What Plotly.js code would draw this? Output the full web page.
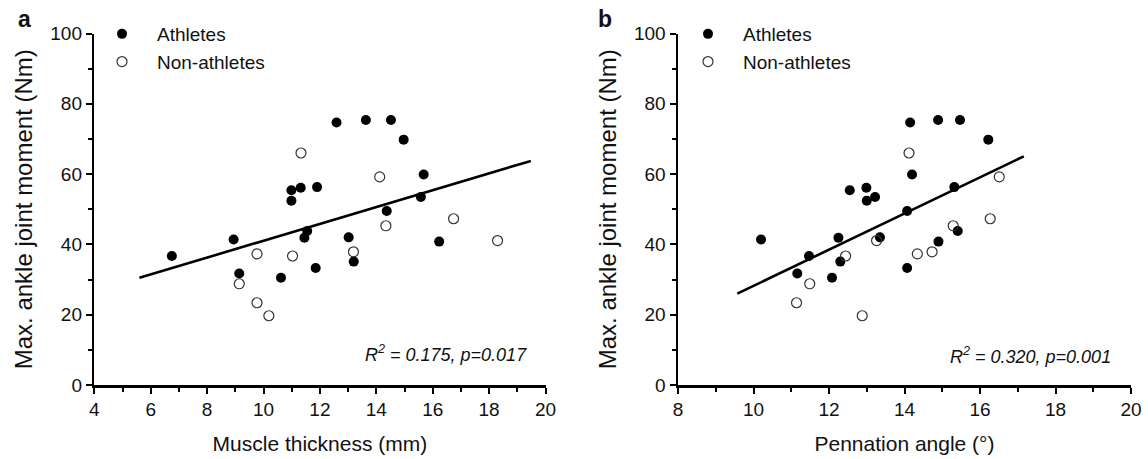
<!DOCTYPE html>
<html>
<head>
<meta charset="utf-8">
<script src="https://cdn.plot.ly/plotly-3.0.1.min.js"></script>
<style>html,body{margin:0;padding:0;background:#fff;}#chart{width:1148px;height:459px;}</style>
</head>
<body>
<div id="chart"></div>
<script>
// ---- Data ----
// Panel a: muscle thickness (mm) vs max ankle joint moment (Nm)
const athThickness = [6.75, 8.94, 9.14, 10.62, 10.99, 10.99, 11.32, 11.45, 11.55, 11.85, 11.9, 12.59, 13.02, 13.2, 13.63, 14.37, 14.52, 14.97, 15.58, 15.68, 16.23];
const athMoment    = [36.7, 41.4, 31.7, 30.5, 52.4, 55.4, 56.1, 41.9, 43.8, 33.3, 56.3, 74.7, 42.0, 35.1, 75.4, 49.5, 75.4, 69.8, 53.5, 59.9, 40.8];
// Panel b: pennation angle (deg), same athletes in the same order
const athPennation = [11.47, 10.20, 11.16, 12.08, 13.00, 12.55, 12.99, 12.25, 15.41, 14.07, 15.32, 14.15, 13.35, 12.30, 14.89, 14.07, 15.47, 16.22, 13.22, 14.20, 14.90];

const nonThickness = [9.14, 9.77, 9.77, 10.19, 11.03, 11.33, 13.19, 14.12, 14.34, 16.74, 18.30];
const nonMoment    = [28.8, 37.3, 23.4, 19.7, 36.7, 66.0, 37.9, 59.2, 45.3, 47.3, 41.1];
const nonPennation = [11.49, 14.34, 11.14, 12.88, 12.44, 14.12, 14.73, 16.51, 15.29, 16.27, 13.26];

// Fit-line x extents (as drawn in the reference)
const fitRangeA = [5.6, 19.48];
const fitRangeB = [9.57, 17.16];

const statsA = "R<sup>2</sup> = 0.175, p=0.017";
const statsB = "R<sup>2</sup> = 0.320, p=0.001";

const xTitleA = "Muscle thickness (mm)";
const xTitleB = "Pennation angle (°)";
const yTitle = "Max. ankle joint moment (Nm)";
const groupNames = ["Athletes", "Non-athletes"];

// ---- Linear regression over all points ----
function ols(x, y) {
  const n = x.length;
  let sx = 0, sy = 0;
  for (let i = 0; i < n; i++) { sx += x[i]; sy += y[i]; }
  const mx = sx / n, my = sy / n;
  let sxy = 0, sxx = 0;
  for (let i = 0; i < n; i++) { sxy += (x[i] - mx) * (y[i] - my); sxx += (x[i] - mx) ** 2; }
  const b = sxy / sxx;
  return { slope: b, intercept: my - b * mx };
}
const fitA = ols(athThickness.concat(nonThickness), athMoment.concat(nonMoment));
const fitB = ols(athPennation.concat(nonPennation), athMoment.concat(nonMoment));

const FONT = "Liberation Sans, Arial, sans-serif";
const filledMarker = { symbol: "circle", size: 10, color: "#000", line: { width: 0 } };
const openMarker = { symbol: "circle-open", size: 10, color: "#333", line: { width: 1.2, color: "#333" } };

const traces = [
  { x: athThickness, y: athMoment, type: "scatter", mode: "markers", name: groupNames[0], marker: filledMarker, xaxis: "x", yaxis: "y", legend: "legend" },
  { x: nonThickness, y: nonMoment, type: "scatter", mode: "markers", name: groupNames[1], marker: openMarker, xaxis: "x", yaxis: "y", legend: "legend" },
  { x: fitRangeA, y: fitRangeA.map(v => fitA.intercept + fitA.slope * v), type: "scatter", mode: "lines", line: { color: "#000", width: 2.6 }, showlegend: false, xaxis: "x", yaxis: "y", hoverinfo: "skip" },
  { x: athPennation, y: athMoment, type: "scatter", mode: "markers", name: groupNames[0], marker: filledMarker, xaxis: "x2", yaxis: "y2", legend: "legend2" },
  { x: nonPennation, y: nonMoment, type: "scatter", mode: "markers", name: groupNames[1], marker: openMarker, xaxis: "x2", yaxis: "y2", legend: "legend2" },
  { x: fitRangeB, y: fitRangeB.map(v => fitB.intercept + fitB.slope * v), type: "scatter", mode: "lines", line: { color: "#000", width: 2.6 }, showlegend: false, xaxis: "x2", yaxis: "y2", hoverinfo: "skip" }
];

const W = 1148, H = 459;
const yDom = [1 - 385 / H, 1 - 33.5 / H];

function xAxis(dom, range, title, anchor) {
  return {
    domain: dom, range: range, anchor: anchor, showgrid: false, zeroline: false,
    showline: true, linecolor: "#000", linewidth: 2.5, mirror: false,
    ticks: "outside", ticklen: 6, tickwidth: 2, tickcolor: "#000", dtick: 2, tick0: 0,
    minor: { dtick: 1, ticks: "outside", ticklen: 4, tickwidth: 2, tickcolor: "#000", showgrid: false },
    tickfont: { family: FONT, size: 19, color: "#111" },
    title: { text: title, font: { family: FONT, size: 21, color: "#111" }, standoff: 17 },
    fixedrange: true, automargin: false
  };
}
function yAxis(anchor) {
  return {
    domain: yDom, range: [0, 100], anchor: anchor, showgrid: false, zeroline: false,
    showline: true, linecolor: "#000", linewidth: 2.5,
    ticks: "outside", ticklen: 6, tickwidth: 2, tickcolor: "#000", dtick: 20, tick0: 0,
    minor: { dtick: 10, ticks: "outside", ticklen: 4, tickwidth: 2, tickcolor: "#000", showgrid: false },
    tickfont: { family: FONT, size: 19, color: "#111" },
    title: { text: yTitle, font: { family: FONT, size: 24, color: "#111" }, standoff: 11 },
    fixedrange: true, automargin: false
  };
}

const legendBase = {
  orientation: "v", xanchor: "left", yanchor: "top", bgcolor: "rgba(0,0,0,0)", borderwidth: 0,
  font: { family: FONT, size: 19, color: "#111" }, itemwidth: 60, tracegroupgap: 0
};

const layout = {
  width: W, height: H,
  margin: { l: 0, r: 0, t: 0, b: 0 },
  paper_bgcolor: "#fff", plot_bgcolor: "#fff",
  font: { family: FONT, color: "#111" },
  showlegend: true,
  xaxis: xAxis([94.3 / W, 545.5 / W], [4, 20], xTitleA, "y"),
  yaxis: yAxis("x"),
  xaxis2: xAxis([678 / W, 1131 / W], [8, 20], xTitleB, "y2"),
  yaxis2: yAxis("x2"),
  legend: Object.assign({}, legendBase, { x: 87 / W, y: 1 - 15 / H }),
  legend2: Object.assign({}, legendBase, { x: 673 / W, y: 1 - 15 / H }),
  annotations: [
    { text: "<b>a</b>", xref: "paper", yref: "paper", x: 24 / W, y: 1 - 19 / H, xanchor: "center", yanchor: "middle", showarrow: false, font: { family: FONT, size: 23, color: "#111" } },
    { text: "<b>b</b>", xref: "paper", yref: "paper", x: 605 / W, y: 1 - 19 / H, xanchor: "center", yanchor: "middle", showarrow: false, font: { family: FONT, size: 23, color: "#111" } },
    { text: "<i>" + statsA + "</i>", xref: "paper", yref: "paper", x: 529 / W, y: 1 - 353 / H, xanchor: "right", yanchor: "middle", showarrow: false, font: { family: FONT, size: 18, color: "#111" } },
    { text: "<i>" + statsB + "</i>", xref: "paper", yref: "paper", x: 1113 / W, y: 1 - 355 / H, xanchor: "right", yanchor: "middle", showarrow: false, font: { family: FONT, size: 18, color: "#111" } }
  ]
};

Plotly.newPlot("chart", traces, layout, { displayModeBar: false, staticPlot: true });
</script>
</body>
</html>
